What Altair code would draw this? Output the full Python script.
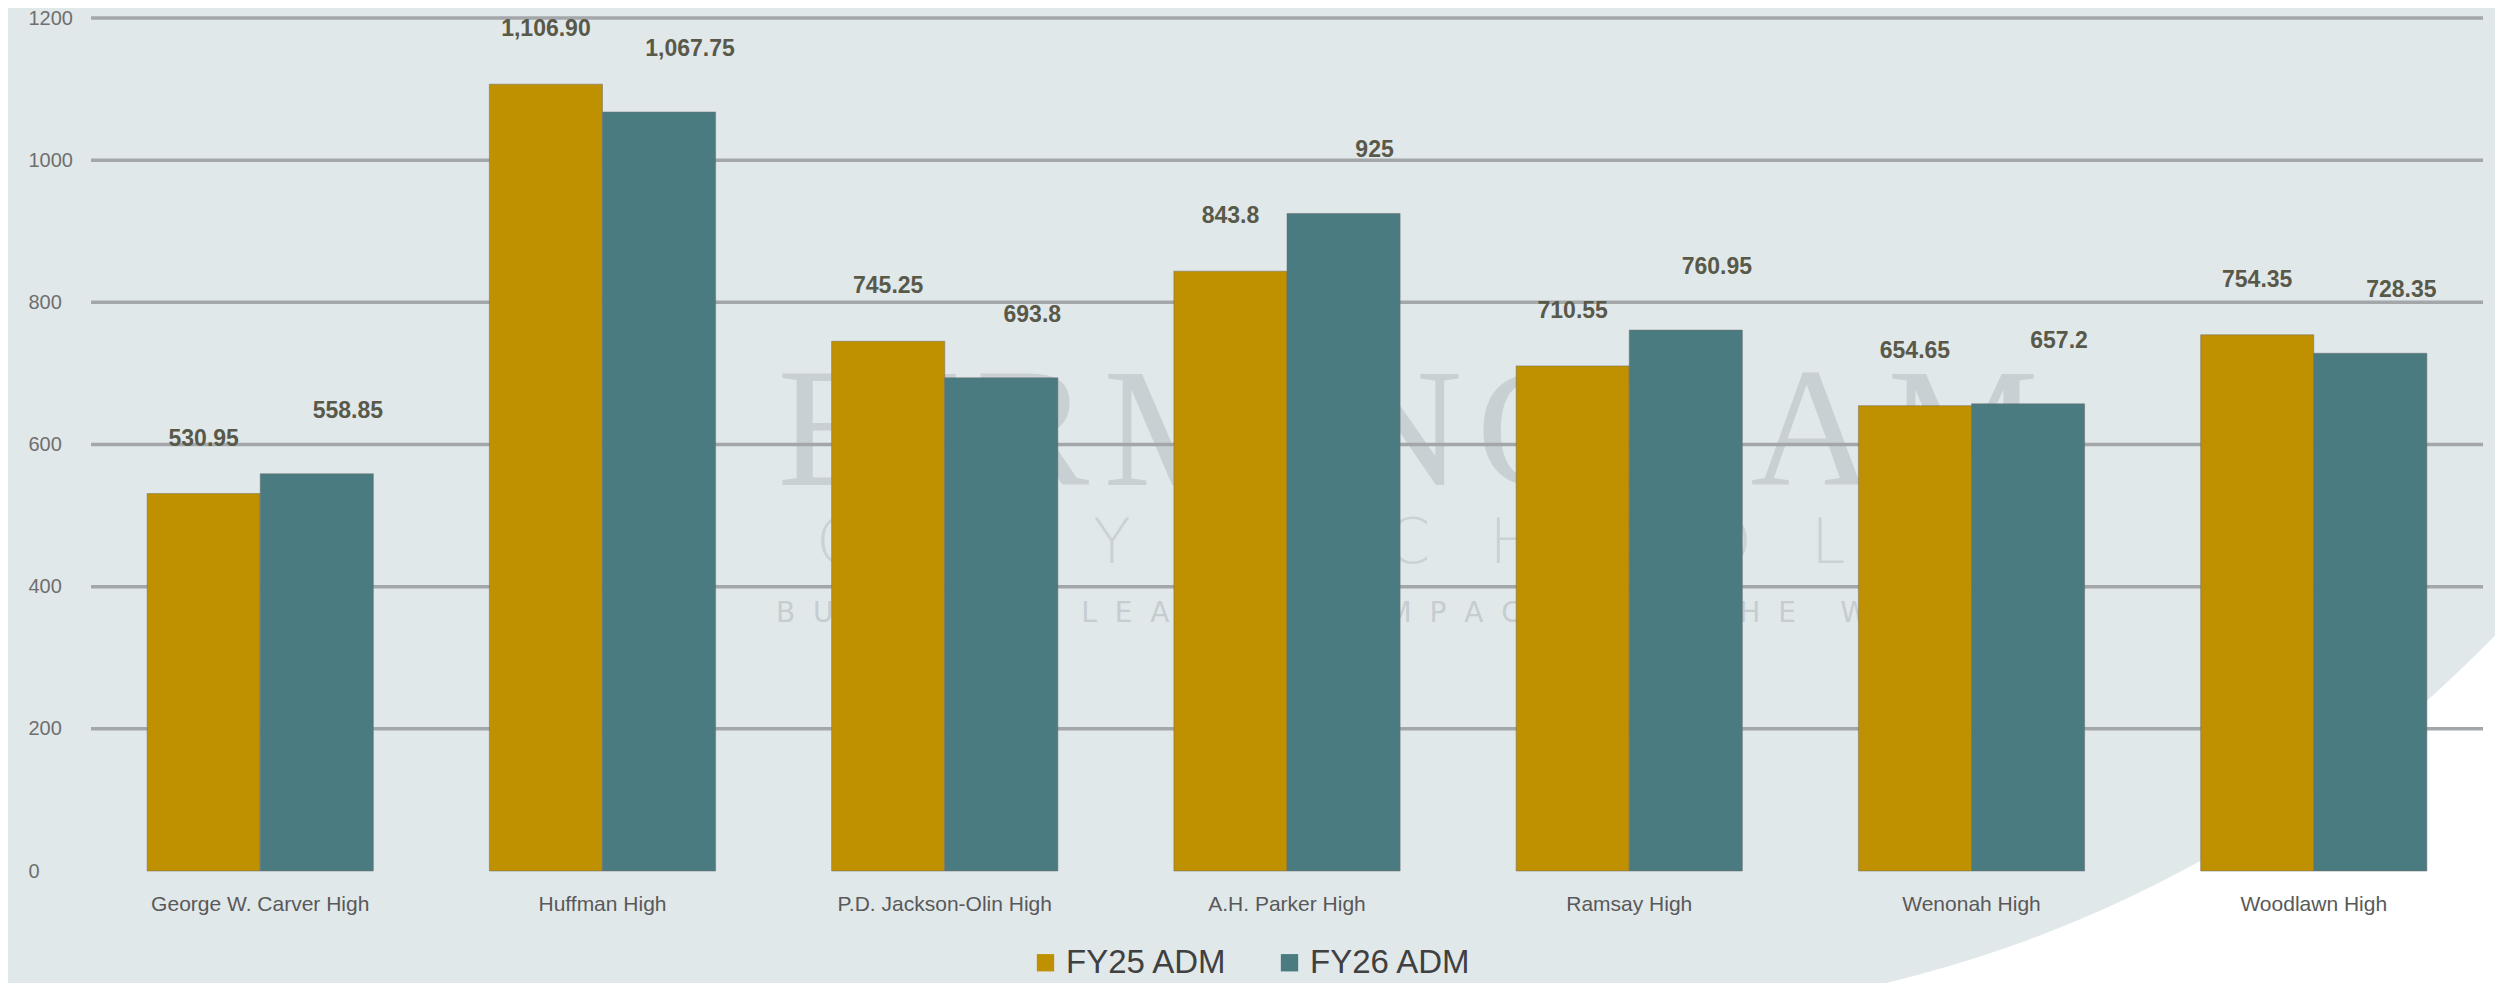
import math
import altair as alt
import pandas as pd

# ---------------- data ----------------
schools = ["George W. Carver High", "Huffman High", "P.D. Jackson-Olin High",
           "A.H. Parker High", "Ramsay High", "Wenonah High", "Woodlawn High"]
series_names = ["FY25 ADM", "FY26 ADM"]
fy25_values = [530.95, 1106.90, 745.25, 843.8, 710.55, 654.65, 754.35]
fy26_values = [558.85, 1067.75, 693.8, 925, 760.95, 657.2, 728.35]
fy25_labels = ["530.95", "1,106.90", "745.25", "843.8", "710.55", "654.65", "754.35"]
fy26_labels = ["558.85", "1,067.75", "693.8", "925", "760.95", "657.2", "728.35"]
y_ticks = [0, 200, 400, 600, 800, 1000, 1200]
series_colors = ["#BF9000", "#497B80"]

rows = []
for s, v, l in zip(schools, fy25_values, fy25_labels):
    rows.append({"school": s, "series": "FY25 ADM", "value": v, "label": l})
for s, v, l in zip(schools, fy26_values, fy26_labels):
    rows.append({"school": s, "series": "FY26 ADM", "value": v, "label": l})
df = pd.DataFrame(rows)
grid_df = pd.DataFrame({"value": [t for t in y_ticks if t > 0]})

W, H = 2392, 853
BG = "#E1E8EA"

# ---------------- encodings ----------------
x_enc = alt.X("school:N", sort=schools,
              scale=alt.Scale(paddingInner=0.339, paddingOuter=0.164),
              axis=alt.Axis(title=None, labelAngle=0, domain=False, ticks=False, tickSize=0,
                            labelPadding=22, labelFont="Liberation Sans", labelFontSize=21,
                            labelColor="#595959", labelLimit=0, zindex=1))
y_scale = alt.Scale(domain=[0, 1200], nice=False)
y_axis = alt.Axis(title=None, values=y_ticks, format="d", grid=False, domain=False,
                  ticks=False, tickSize=0, labelAlign="left", labelBaseline="middle",
                  labelPadding=63, labelFont="Liberation Sans", labelFontSize=20,
                  labelColor="#6F6F6F", zindex=1)
y_enc = alt.Y("value:Q", scale=y_scale, axis=y_axis)
xoff = alt.XOffset("series:N", sort=series_names,
                   scale=alt.Scale(domain=series_names, paddingInner=0, paddingOuter=0))
color_enc = alt.Color("series:N",
                      scale=alt.Scale(domain=series_names, range=series_colors),
                      legend=alt.Legend(title=None, orient="none", legendX=938, legendY=928,
                                        direction="horizontal", symbolType="square",
                                        symbolSize=300, symbolStrokeWidth=0,
                                        labelFont="Liberation Sans", labelFontSize=33,
                                        labelColor="#404040", labelOffset=4,
                                        columnPadding=45, padding=0, labelLimit=0))

one = alt.Data(values=[{"k": 1}])

# decorative white sweep (lower right of the slide background): an annular sector
sweep = alt.Chart(one).mark_arc(radius=1257, radius2=4000, theta=math.pi / 2, theta2=math.pi,
                                color="#FFFFFF", opacity=1, strokeWidth=0).encode(
    x=alt.value(1501), y=alt.value(-257))

# watermark
hair = "\u200a"
nb = "\u00a0"
wm_line1 = hair.join("BIRMINGHAM")
wm_line2 = (nb * 3).join("CITY") + nb * 8 + (nb * 3).join("SCHOOLS")
wm_line3 = (nb * 5).join((nb * 2).join(w) for w in ["BUILDING", "LEADERS", "IMPACTING", "THE", "WORLD"])

wm1 = alt.Chart(one).mark_text(text=wm_line1, font="Liberation Serif", fontSize=170,
                               color="#C9D0D3", align="center", baseline="alphabetic").encode(
    x=alt.value(1317), y=alt.value(467))
wm2 = alt.Chart(one).mark_text(text=wm_line2, font="DejaVu Sans", fontSize=62, fontWeight=300,
                               color="#CBD2D5", align="center", baseline="alphabetic").encode(
    x=alt.value(1289), y=alt.value(545))
wm3 = alt.Chart(one).mark_text(text=wm_line3, font="DejaVu Sans", fontSize=28,
                               color="#C6CDD0", align="center", baseline="alphabetic").encode(
    x=alt.value(1306), y=alt.value(604))

grid = alt.Chart(grid_df).mark_rule(color="#A3A7A9", strokeWidth=3.5).encode(y=y_enc)

bars = alt.Chart(df).mark_bar(stroke="#6E6E6E", strokeWidth=1, strokeOpacity=0.5).encode(
    x=x_enc, y=y_enc, xOffset=xoff, color=color_enc)

lab25 = alt.Chart(df).transform_filter(alt.datum.series == "FY25 ADM").mark_text(
    dy=-55, dx=0, font="Liberation Sans", fontWeight="bold", fontSize=23,
    color="#59594A", baseline="middle", align="center").encode(
    x=x_enc, y=y_enc, xOffset=xoff, text="label:N")
lab26 = alt.Chart(df).transform_filter(alt.datum.series == "FY26 ADM").mark_text(
    dy=-63, dx=31, font="Liberation Sans", fontWeight="bold", fontSize=23,
    color="#59594A", baseline="middle", align="center").encode(
    x=x_enc, y=y_enc, xOffset=xoff, text="label:N")

chart = alt.layer(sweep, wm1, wm2, wm3, grid, bars, lab25, lab26).properties(
    width=W, height=H,
    padding={"left": 83, "top": 10, "right": 12, "bottom": 112},
    autosize=alt.AutoSizeParams(type="none"),
).configure(background=BG).configure_view(strokeWidth=0)

chart.save("out.html", embed_options={"renderer": "svg", "actions": False})
